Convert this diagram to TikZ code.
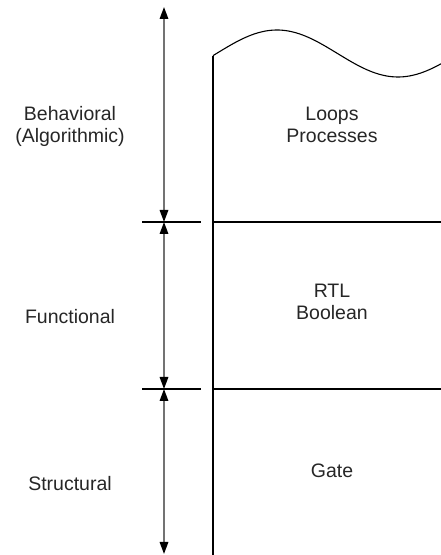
\documentclass[tikz,border=0pt]{standalone}
\usepackage{fontspec}
\setmainfont{Liberation Sans}
\usetikzlibrary{arrows.meta}
\begin{document}
\begin{tikzpicture}[x=1pt,y=1pt,
    lbl/.style={font=\fontsize{19.5}{22}\selectfont, text=black!85, anchor=base, inner sep=0pt},
    sepline/.style={draw=black, line width=1.1pt},
    span/.style={draw=black!55, line width=1.6pt,
      {Triangle[length=12pt,width=8.5pt,black]}-{Triangle[length=12pt,width=8.5pt,black]}}]
  \useasboundingbox (0,0) rectangle (441,555);

  % level boundaries along the arrow column
  \coordinate (top) at (164,548);
  \coordinate (s1) at (164,333);
  \coordinate (s2) at (164,166);
  \coordinate (bot) at (164,1);

  % double-headed arrows spanning each abstraction level
  \draw[span] (top) -- (s1);
  \draw[span] (s1) -- (s2);
  \draw[span] (s2) -- (bot);

  % short ticks under the arrow column
  \coordinate (t1l) at (142,333);  \coordinate (t1r) at (201,333);
  \coordinate (t2l) at (142,166);  \coordinate (t2r) at (201,166);
  \draw[sepline] (t1l) -- (t1r);
  \draw[sepline] (t2l) -- (t2r);

  % right-hand panel: wavy open top, left edge and level dividers
  \coordinate (wavestart) at (213,{501.5+23.5*cos(1.487603*(213-277))});
  \coordinate (panelbot) at (213,0);
  \draw[sepline] plot[domain=213:441, samples=80, variable=\x]
    ({\x},{501.5+23.5*cos(1.487603*(\x-277))});
  \draw[sepline] (wavestart) -- (panelbot);
  \coordinate (d1l) at (213,333);  \coordinate (d1r) at (441,333);
  \coordinate (d2l) at (213,166);  \coordinate (d2r) at (441,166);
  \draw[sepline] (d1l) -- (d1r);
  \draw[sepline] (d2l) -- (d2r);

  % level names
  \node[lbl] (beh1) at (70,434) {Behavioral};
  \node[lbl] (beh2) at (70,412) {(Algorithmic)};
  \node[lbl] (fun)  at (70,231) {Functional};
  \node[lbl] (str)  at (70,64)  {Structural};

  % representative constructs
  \node[lbl] (loops) at (332,434) {Loops};
  \node[lbl] (proc)  at (332,412) {Processes};
  \node[lbl] (rtl)   at (332,257) {RTL};
  \node[lbl] (bool)  at (332,235) {Boolean};
  \node[lbl] (gate)  at (332,77)  {Gate};
\end{tikzpicture}
\end{document}
